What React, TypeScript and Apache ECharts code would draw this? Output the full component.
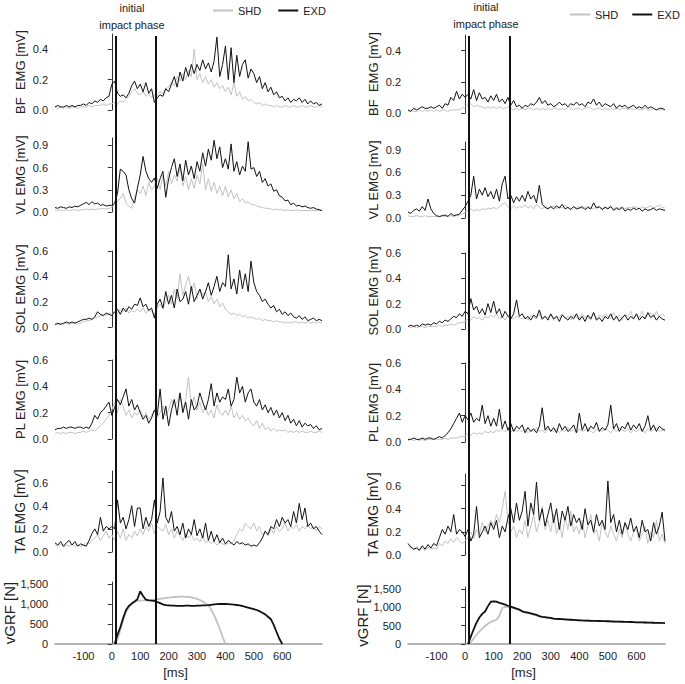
import React, { useEffect, useRef } from 'react';
import * as echarts from 'echarts';

// ---- time bases ----
const EMG_START_MS = -200;
const EMG_STEP_MS = 10;
const GRF_START_MS = 10;
const GRF_STEP_MS = 10;

const xTickLabels = [-100, 0, 100, 200, 300, 400, 500, 600];
const phaseLinesLeft = [15, 155];
const phaseLinesRight = [12, 155];

const panelNames = ['BF  EMG [mV]', 'VL EMG [mV]', 'SOL EMG [mV]', 'PL EMG [mV]', 'TA EMG [mV]', 'vGRF [N]'];
const panelMax = [0.5, 1.0, 0.6, 0.6, 0.7, 1550];
const panelTicks = [
  [0, 0.2, 0.4],
  [0, 0.3, 0.6, 0.9],
  [0, 0.2, 0.4, 0.6],
  [0, 0.2, 0.4, 0.6],
  [0, 0.2, 0.4, 0.6],
  [0, 500, 1000, 1500],
];

// ---- LEFT column (t = -200 .. 740 ms, 10 ms) ----
const bfShdL = [
  0.02,0.01,0.02,0.01,0.02,0.01,0.02,0.02,0.01,0.02,
  0.02,0.02,0.03,0.02,0.03,0.03,0.03,0.04,0.03,0.04,
  0.04,0.05,0.04,0.06,0.05,0.07,0.09,0.12,0.14,0.11,
  0.10,0.12,0.09,0.11,0.08,0.10,0.09,0.12,0.11,0.14,
  0.15,0.18,0.16,0.22,0.19,0.24,0.20,0.26,0.22,0.40,
  0.20,0.24,0.18,0.22,0.17,0.20,0.15,0.18,0.14,0.16,
  0.12,0.15,0.10,0.18,0.09,0.12,0.07,0.09,0.06,0.07,
  0.05,0.04,0.05,0.03,0.04,0.03,0.03,0.02,0.03,0.02,
  0.02,0.03,0.02,0.02,0.03,0.02,0.02,0.03,0.02,0.02,
  0.03,0.02,0.02,0.03,0.02,
];
const bfExdL = [
  0.02,0.03,0.02,0.02,0.03,0.02,0.03,0.02,0.03,0.03,
  0.04,0.03,0.05,0.04,0.06,0.05,0.07,0.06,0.08,0.09,
  0.17,0.19,0.11,0.09,0.10,0.08,0.11,0.16,0.19,0.14,
  0.17,0.12,0.18,0.11,0.14,0.05,0.08,0.10,0.09,0.14,
  0.12,0.17,0.22,0.15,0.25,0.19,0.28,0.22,0.30,0.24,
  0.30,0.26,0.33,0.27,0.31,0.25,0.32,0.48,0.22,0.30,
  0.42,0.20,0.41,0.18,0.36,0.22,0.30,0.33,0.21,0.27,
  0.24,0.18,0.22,0.14,0.18,0.12,0.15,0.10,0.12,0.08,
  0.09,0.06,0.08,0.05,0.07,0.06,0.08,0.05,0.07,0.04,
  0.06,0.04,0.05,0.03,0.04,
];
const vlShdL = [
  0.03,0.02,0.03,0.02,0.03,0.02,0.03,0.03,0.02,0.03,
  0.03,0.04,0.03,0.04,0.03,0.04,0.04,0.05,0.04,0.05,
  0.06,0.10,0.15,0.18,0.25,0.12,0.08,0.05,0.20,0.30,
  0.25,0.35,0.22,0.40,0.30,0.35,0.45,0.30,0.50,0.35,
  0.55,0.38,0.50,0.42,0.60,0.35,0.48,0.30,0.45,0.32,
  0.50,0.38,0.65,0.30,0.45,0.28,0.40,0.25,0.35,0.22,
  0.35,0.20,0.30,0.18,0.25,0.14,0.18,0.12,0.14,0.10,
  0.10,0.08,0.07,0.06,0.05,0.05,0.04,0.03,0.04,0.03,
  0.03,0.02,0.03,0.02,0.02,0.03,0.02,0.02,0.02,0.02,
  0.02,0.02,0.02,0.02,0.02,
];
const vlExdL = [
  0.06,0.05,0.07,0.06,0.05,0.07,0.06,0.08,0.07,0.09,
  0.11,0.13,0.10,0.14,0.11,0.12,0.09,0.10,0.08,0.09,
  0.09,0.12,0.25,0.58,0.55,0.50,0.30,0.18,0.12,0.32,
  0.50,0.75,0.55,0.45,0.40,0.46,0.32,0.45,0.55,0.20,
  0.45,0.60,0.72,0.48,0.65,0.42,0.70,0.50,0.62,0.45,
  0.68,0.55,0.80,0.62,0.85,0.70,0.97,0.72,0.88,0.60,
  0.72,0.58,0.92,0.55,0.68,0.50,0.62,0.55,0.95,0.58,
  0.60,0.48,0.55,0.40,0.45,0.35,0.38,0.28,0.30,0.22,
  0.20,0.15,0.16,0.10,0.12,0.08,0.09,0.07,0.08,0.06,
  0.05,0.06,0.04,0.03,0.02,
];
const solShdL = [
  0.02,0.02,0.03,0.02,0.03,0.02,0.03,0.03,0.02,0.03,
  0.04,0.05,0.05,0.06,0.07,0.08,0.09,0.10,0.09,0.11,
  0.10,0.12,0.11,0.14,0.12,0.15,0.11,0.13,0.12,0.14,
  0.12,0.15,0.11,0.14,0.12,0.10,0.15,0.18,0.14,0.20,
  0.25,0.18,0.30,0.22,0.42,0.25,0.33,0.40,0.28,0.35,
  0.22,0.30,0.25,0.28,0.20,0.24,0.18,0.22,0.16,0.19,
  0.14,0.12,0.10,0.11,0.09,0.10,0.08,0.09,0.07,0.08,
  0.07,0.06,0.07,0.05,0.06,0.05,0.05,0.04,0.05,0.04,
  0.04,0.03,0.04,0.03,0.04,0.04,0.03,0.04,0.03,0.04,
  0.03,0.04,0.03,0.04,0.03,
];
const solExdL = [
  0.02,0.03,0.02,0.03,0.04,0.03,0.04,0.03,0.04,0.05,
  0.06,0.06,0.07,0.06,0.08,0.12,0.10,0.09,0.11,0.10,
  0.09,0.12,0.14,0.10,0.15,0.12,0.16,0.14,0.18,0.17,
  0.23,0.16,0.18,0.13,0.15,0.07,0.18,0.22,0.15,0.28,
  0.18,0.25,0.15,0.30,0.20,0.22,0.28,0.18,0.32,0.20,
  0.25,0.30,0.22,0.28,0.35,0.25,0.32,0.40,0.28,0.35,
  0.32,0.57,0.30,0.38,0.26,0.45,0.30,0.42,0.28,0.52,
  0.35,0.28,0.25,0.20,0.22,0.18,0.15,0.17,0.12,0.14,
  0.10,0.12,0.09,0.11,0.08,0.07,0.09,0.06,0.08,0.05,
  0.06,0.07,0.05,0.06,0.05,
];
const plShdL = [
  0.04,0.05,0.04,0.05,0.04,0.05,0.05,0.04,0.05,0.05,
  0.06,0.05,0.06,0.07,0.06,0.08,0.10,0.12,0.15,0.18,
  0.22,0.28,0.20,0.30,0.25,0.18,0.22,0.16,0.20,0.18,
  0.22,0.17,0.20,0.15,0.18,0.22,0.16,0.20,0.25,0.18,
  0.22,0.30,0.25,0.28,0.35,0.22,0.30,0.47,0.25,0.32,
  0.22,0.28,0.20,0.25,0.18,0.22,0.16,0.26,0.20,0.18,
  0.22,0.18,0.25,0.16,0.20,0.15,0.18,0.14,0.16,0.12,
  0.10,0.14,0.08,0.12,0.07,0.09,0.06,0.08,0.06,0.07,
  0.06,0.07,0.05,0.06,0.05,0.06,0.05,0.06,0.05,0.05,
  0.06,0.05,0.05,0.06,0.05,
];
const plExdL = [
  0.07,0.08,0.08,0.09,0.08,0.09,0.09,0.08,0.09,0.09,
  0.08,0.09,0.08,0.12,0.18,0.15,0.20,0.22,0.25,0.28,
  0.18,0.24,0.30,0.26,0.32,0.38,0.25,0.30,0.22,0.26,
  0.20,0.15,0.18,0.12,0.16,0.22,0.18,0.38,0.15,0.25,
  0.10,0.22,0.30,0.18,0.35,0.20,0.28,0.15,0.30,0.22,
  0.25,0.35,0.28,0.22,0.30,0.42,0.25,0.35,0.28,0.32,
  0.30,0.38,0.25,0.30,0.47,0.35,0.40,0.28,0.35,0.38,
  0.28,0.25,0.30,0.22,0.26,0.20,0.24,0.18,0.22,0.16,
  0.20,0.14,0.18,0.12,0.15,0.10,0.14,0.09,0.12,0.10,
  0.11,0.08,0.10,0.07,0.08,
];
const taShdL = [
  0.06,0.05,0.07,0.04,0.06,0.05,0.07,0.05,0.06,0.05,
  0.06,0.08,0.07,0.10,0.12,0.15,0.10,0.14,0.18,0.12,
  0.15,0.10,0.18,0.12,0.20,0.10,0.15,0.12,0.18,0.14,
  0.20,0.15,0.22,0.18,0.25,0.16,0.22,0.20,0.18,0.24,
  0.15,0.20,0.12,0.18,0.14,0.10,0.16,0.12,0.15,0.10,
  0.12,0.09,0.14,0.08,0.10,0.07,0.09,0.06,0.08,0.07,
  0.06,0.08,0.07,0.10,0.15,0.20,0.18,0.25,0.22,0.20,
  0.25,0.18,0.22,0.15,0.18,0.14,0.20,0.16,0.22,0.18,
  0.20,0.25,0.18,0.22,0.20,0.24,0.18,0.22,0.20,0.24,
  0.20,0.22,0.18,0.22,0.20,
];
const taExdL = [
  0.08,0.06,0.09,0.05,0.08,0.10,0.06,0.09,0.05,0.07,
  0.06,0.05,0.10,0.16,0.20,0.15,0.30,0.18,0.22,0.20,
  0.22,0.20,0.45,0.25,0.30,0.20,0.28,0.40,0.22,0.38,
  0.38,0.20,0.30,0.22,0.28,0.45,0.25,0.35,0.64,0.30,
  0.25,0.35,0.18,0.22,0.15,0.25,0.12,0.20,0.15,0.28,
  0.14,0.20,0.12,0.25,0.10,0.18,0.09,0.15,0.08,0.12,
  0.07,0.10,0.08,0.06,0.09,0.07,0.08,0.06,0.07,0.05,
  0.06,0.05,0.08,0.12,0.18,0.15,0.22,0.20,0.28,0.22,
  0.30,0.25,0.28,0.22,0.35,0.25,0.42,0.28,0.38,0.22,
  0.25,0.20,0.22,0.18,0.15,
];
// vGRF left (t = 10 ms onward)
const grfShdL = [
  0,120,350,600,800,920,1000,1060,1080,1085,
  1090,1090,1095,1100,1110,1120,1130,1140,1150,1160,
  1165,1175,1180,1185,1185,1180,1175,1165,1150,1130,
  1100,1060,1020,960,860,720,560,380,180,0,
];
const grfExdL = [
  0,230,420,650,850,950,1010,1060,1120,1320,
  1200,1110,1090,1085,1080,1050,1020,990,970,965,
  960,960,955,955,955,960,960,955,955,960,
  960,965,965,970,980,990,995,1000,1005,1000,
  995,990,985,975,965,950,930,910,890,870,
  850,820,780,740,680,620,480,300,130,0,
];

// ---- RIGHT column (t = -200 .. 700 ms, 10 ms) ----
const bfShdR = [
  0.01,0.02,0.01,0.01,0.02,0.01,0.02,0.01,0.02,0.01,
  0.02,0.01,0.02,0.02,0.01,0.02,0.02,0.02,0.02,0.03,
  0.04,0.05,0.06,0.04,0.05,0.04,0.04,0.03,0.04,0.03,
  0.04,0.03,0.04,0.03,0.03,0.04,0.03,0.02,0.03,0.02,
  0.03,0.02,0.03,0.03,0.02,0.03,0.02,0.03,0.02,0.03,
  0.02,0.03,0.03,0.02,0.03,0.02,0.04,0.03,0.02,0.03,
  0.03,0.02,0.03,0.04,0.03,0.02,0.03,0.03,0.02,0.03,
  0.02,0.03,0.02,0.03,0.02,0.03,0.03,0.02,0.03,0.02,
  0.03,0.02,0.02,0.03,0.02,0.02,0.03,0.02,0.02,0.02,
  0.02,
];
const bfExdR = [
  0.02,0.01,0.03,0.02,0.03,0.04,0.03,0.03,0.04,0.03,
  0.04,0.05,0.03,0.06,0.05,0.10,0.08,0.14,0.09,0.12,
  0.10,0.12,0.09,0.15,0.08,0.13,0.09,0.10,0.07,0.11,
  0.08,0.12,0.07,0.09,0.06,0.10,0.05,0.08,0.04,0.05,
  0.03,0.05,0.04,0.06,0.05,0.07,0.10,0.06,0.08,0.05,
  0.06,0.04,0.05,0.07,0.05,0.06,0.04,0.06,0.05,0.07,
  0.05,0.06,0.04,0.07,0.06,0.09,0.05,0.07,0.04,0.06,
  0.05,0.04,0.06,0.03,0.05,0.04,0.05,0.03,0.04,0.05,
  0.03,0.04,0.03,0.05,0.03,0.04,0.03,0.02,0.03,0.03,
  0.02,
];
const vlShdR = [
  0.03,0.02,0.02,0.03,0.02,0.02,0.03,0.02,0.02,0.02,
  0.02,0.02,0.03,0.02,0.02,0.03,0.02,0.03,0.03,0.05,
  0.08,0.10,0.12,0.09,0.11,0.10,0.12,0.11,0.13,0.12,
  0.14,0.12,0.15,0.18,0.20,0.15,0.12,0.16,0.13,0.15,
  0.14,0.17,0.13,0.16,0.12,0.18,0.14,0.12,0.15,0.13,
  0.14,0.16,0.12,0.15,0.13,0.17,0.14,0.12,0.15,0.13,
  0.15,0.12,0.14,0.16,0.13,0.12,0.15,0.14,0.12,0.15,
  0.13,0.16,0.12,0.14,0.13,0.15,0.12,0.14,0.13,0.15,
  0.14,0.12,0.15,0.13,0.14,0.16,0.13,0.15,0.17,0.14,
  0.13,
];
const vlExdR = [
  0.08,0.06,0.10,0.12,0.09,0.15,0.10,0.25,0.12,0.06,
  0.03,0.02,0.03,0.04,0.02,0.06,0.03,0.04,0.05,0.10,
  0.15,0.22,0.30,0.55,0.25,0.38,0.30,0.40,0.28,0.35,
  0.25,0.38,0.22,0.45,0.55,0.25,0.30,0.20,0.28,0.22,
  0.30,0.22,0.35,0.25,0.30,0.20,0.43,0.18,0.14,0.12,
  0.15,0.12,0.16,0.13,0.18,0.12,0.14,0.11,0.15,0.12,
  0.13,0.15,0.11,0.14,0.12,0.20,0.13,0.15,0.11,0.14,
  0.12,0.15,0.10,0.13,0.11,0.14,0.09,0.12,0.10,0.13,
  0.11,0.13,0.09,0.12,0.10,0.11,0.13,0.10,0.12,0.11,
  0.10,
];
const solShdR = [
  0.02,0.01,0.02,0.01,0.02,0.02,0.01,0.02,0.02,0.02,
  0.02,0.03,0.02,0.03,0.03,0.04,0.03,0.04,0.05,0.05,
  0.06,0.08,0.07,0.10,0.08,0.09,0.07,0.10,0.09,0.11,
  0.09,0.12,0.08,0.10,0.07,0.11,0.09,0.08,0.10,0.09,
  0.08,0.10,0.07,0.11,0.09,0.08,0.12,0.07,0.10,0.09,
  0.11,0.07,0.10,0.09,0.12,0.08,0.10,0.07,0.11,0.09,
  0.08,0.12,0.09,0.10,0.07,0.13,0.08,0.11,0.09,0.12,
  0.10,0.08,0.13,0.09,0.11,0.07,0.12,0.10,0.14,0.08,
  0.12,0.09,0.14,0.08,0.11,0.13,0.09,0.14,0.10,0.12,
  0.10,
];
const solExdR = [
  0.02,0.03,0.02,0.03,0.02,0.04,0.03,0.04,0.03,0.05,
  0.04,0.06,0.05,0.07,0.06,0.08,0.10,0.09,0.12,0.10,
  0.14,0.12,0.24,0.15,0.18,0.12,0.16,0.11,0.20,0.13,
  0.22,0.12,0.16,0.09,0.14,0.10,0.08,0.12,0.23,0.10,
  0.12,0.08,0.10,0.07,0.11,0.09,0.15,0.08,0.10,0.07,
  0.12,0.08,0.10,0.06,0.11,0.09,0.07,0.10,0.08,0.12,
  0.07,0.10,0.06,0.11,0.08,0.13,0.07,0.09,0.06,0.10,
  0.08,0.12,0.07,0.10,0.06,0.09,0.11,0.07,0.10,0.08,
  0.12,0.07,0.10,0.08,0.13,0.09,0.11,0.07,0.10,0.08,
  0.07,
];
const plShdR = [
  0.01,0.02,0.01,0.02,0.01,0.02,0.01,0.02,0.02,0.02,
  0.02,0.02,0.02,0.03,0.02,0.03,0.03,0.03,0.04,0.04,
  0.05,0.06,0.05,0.07,0.06,0.07,0.06,0.08,0.07,0.08,
  0.07,0.09,0.08,0.10,0.08,0.09,0.07,0.10,0.08,0.09,
  0.08,0.10,0.07,0.09,0.08,0.11,0.08,0.09,0.07,0.10,
  0.09,0.08,0.10,0.07,0.09,0.08,0.11,0.08,0.09,0.07,
  0.10,0.08,0.09,0.11,0.08,0.07,0.10,0.09,0.08,0.10,
  0.09,0.07,0.10,0.08,0.11,0.09,0.08,0.10,0.07,0.09,
  0.08,0.10,0.09,0.07,0.10,0.08,0.09,0.11,0.08,0.09,
  0.08,
];
const plExdR = [
  0.02,0.02,0.03,0.02,0.02,0.03,0.02,0.03,0.03,0.02,
  0.03,0.04,0.03,0.05,0.07,0.10,0.14,0.18,0.22,0.15,
  0.20,0.17,0.22,0.15,0.18,0.16,0.28,0.14,0.20,0.12,
  0.18,0.12,0.25,0.10,0.16,0.09,0.14,0.08,0.12,0.10,
  0.13,0.07,0.11,0.08,0.10,0.07,0.12,0.26,0.09,0.12,
  0.08,0.11,0.07,0.14,0.09,0.12,0.08,0.10,0.13,0.07,
  0.22,0.09,0.14,0.08,0.12,0.10,0.15,0.08,0.11,0.09,
  0.13,0.28,0.10,0.14,0.08,0.12,0.10,0.15,0.09,0.13,
  0.10,0.14,0.08,0.12,0.20,0.09,0.13,0.08,0.12,0.10,
  0.09,
];
const taShdR = [
  0.08,0.06,0.05,0.07,0.05,0.06,0.04,0.07,0.05,0.06,
  0.05,0.10,0.08,0.12,0.10,0.14,0.11,0.15,0.12,0.10,
  0.12,0.15,0.20,0.14,0.22,0.18,0.28,0.20,0.25,0.30,
  0.25,0.35,0.28,0.40,0.55,0.30,0.20,0.25,0.15,0.22,
  0.18,0.30,0.15,0.25,0.35,0.20,0.28,0.42,0.22,0.30,
  0.20,0.35,0.18,0.28,0.15,0.32,0.22,0.38,0.20,0.25,
  0.18,0.30,0.15,0.25,0.35,0.18,0.22,0.12,0.28,0.20,
  0.15,0.25,0.18,0.12,0.22,0.15,0.28,0.18,0.12,0.20,
  0.22,0.12,0.18,0.25,0.10,0.20,0.15,0.30,0.12,0.18,
  0.10,
];
const taExdR = [
  0.10,0.07,0.05,0.06,0.04,0.08,0.05,0.09,0.06,0.10,
  0.08,0.15,0.22,0.18,0.25,0.20,0.35,0.18,0.22,0.20,
  0.16,0.22,0.12,0.18,0.42,0.15,0.20,0.25,0.18,0.28,
  0.22,0.30,0.15,0.25,0.20,0.32,0.40,0.28,0.45,0.30,
  0.38,0.55,0.25,0.45,0.35,0.63,0.30,0.40,0.25,0.35,
  0.45,0.28,0.40,0.22,0.38,0.30,0.42,0.25,0.35,0.28,
  0.32,0.22,0.40,0.26,0.30,0.20,0.35,0.25,0.30,0.22,
  0.64,0.28,0.35,0.20,0.30,0.18,0.28,0.22,0.32,0.20,
  0.25,0.15,0.30,0.20,0.22,0.12,0.28,0.18,0.25,0.37,
  0.12,
];
const grfShdR = [
  0,50,150,250,340,420,490,550,600,630,
  660,760,980,1010,1000,990,970,950,925,880,
  860,840,820,800,780,750,730,720,710,700,
  685,680,675,670,665,660,655,650,645,640,
  638,635,632,630,628,625,622,620,618,616,
  614,611,609,607,604,601,599,597,594,590,
  588,586,585,583,580,578,577,575,572,570,
];
const grfExdR = [
  0,200,400,580,720,820,885,1030,1150,1160,
  1150,1120,1100,1070,1040,1015,990,960,935,890,
  870,850,830,810,790,760,740,730,720,710,
  690,685,680,675,670,665,660,655,650,645,
  640,638,635,632,630,628,625,622,620,618,
  615,612,610,608,605,602,600,598,595,590,
  588,586,585,583,580,578,577,575,572,570,
];

// ---- layout (positions / styles) ----
const FONT = "'Liberation Sans', Arial, Helvetica, sans-serif";
const SHD_COLOR = '#c2c2c2';
const EXD_COLOR = '#111111';

const columns = [
  {
    left: 55, width: 267, xMax: 740,
    tops: [34, 138, 251, 360, 471, 582],
    heights: [76, 74, 76, 79, 81, 62],
    phase: phaseLinesLeft,
    shd: [bfShdL, vlShdL, solShdL, plShdL, taShdL, grfShdL],
    exd: [bfExdL, vlExdL, solExdL, plExdL, taExdL, grfExdL],
  },
  {
    left: 408, width: 257, xMax: 700,
    tops: [35, 142, 253, 363, 474, 587],
    heights: [78, 76, 76, 79, 81, 57],
    phase: phaseLinesRight,
    shd: [bfShdR, vlShdR, solShdR, plShdR, taShdR, grfShdR],
    exd: [bfExdR, vlExdR, solExdR, plExdR, taExdR, grfExdR],
  },
];

function toPairs(vals: number[], start: number, step: number) {
  return vals.map((v, i) => [start + i * step, v]);
}

function buildOption() {
  const grid: any[] = [];
  const xAxis: any[] = [];
  const yAxis: any[] = [];
  const series: any[] = [];

  columns.forEach((col) => {
    for (let i = 0; i < 6; i++) {
      const gi = grid.length;
      const isGrf = i === 5;
      grid.push({ left: col.left, width: col.width, top: col.tops[i], height: col.heights[i] });
      xAxis.push({
        type: 'value', gridIndex: gi, min: -200, max: col.xMax,
        show: isGrf,
        axisLine: { show: true, lineStyle: { color: '#999', width: 1.5 } },
        axisTick: { show: false },
        splitLine: { show: false },
        axisLabel: {
          customValues: xTickLabels, fontSize: 11, color: '#222', fontFamily: FONT, margin: 6,
        },
        name: isGrf ? '[ms]' : '',
        nameLocation: 'middle',
        nameGap: 22,
        nameTextStyle: { fontSize: 13, color: '#222', fontFamily: FONT, padding: [0, 26, 0, 0] },
      });
      yAxis.push({
        type: 'value', gridIndex: gi, min: 0, max: panelMax[i],
        axisLine: { show: true, lineStyle: { color: '#333', width: 1 } },
        axisTick: { show: true, length: 4, customValues: panelTicks[i], lineStyle: { color: '#333' } },
        splitLine: { show: false },
        axisLabel: {
          customValues: panelTicks[i], fontSize: 11, color: '#222', fontFamily: FONT, margin: 7,
          formatter: (v: number) => (isGrf ? Math.round(v).toLocaleString('en-US') : v.toFixed(1)),
        },
        name: panelNames[i],
        nameLocation: 'middle',
        nameGap: isGrf ? 30 : 28,
        nameTextStyle: { fontSize: isGrf ? 15 : (i === 4 ? 14 : 13), color: '#222', fontFamily: FONT },
      });
      const start = isGrf ? GRF_START_MS : EMG_START_MS;
      const step = isGrf ? GRF_STEP_MS : EMG_STEP_MS;
      const lw = isGrf ? 1.8 : 1;
      series.push({
        type: 'line', name: 'SHD', xAxisIndex: gi, yAxisIndex: gi,
        data: toPairs(col.shd[i], start, step),
        showSymbol: false, symbol: 'none', silent: true, color: SHD_COLOR,
        lineStyle: { color: SHD_COLOR, width: lw }, z: 2,
      });
      series.push({
        type: 'line', name: 'EXD', xAxisIndex: gi, yAxisIndex: gi,
        data: toPairs(col.exd[i], start, step),
        showSymbol: false, symbol: 'none', silent: true, color: EXD_COLOR,
        lineStyle: { color: EXD_COLOR, width: lw }, z: 3,
      });
    }
  });

  // overlay grids for the phase lines spanning each column
  columns.forEach((col) => {
    const gi = grid.length;
    grid.push({ left: col.left, width: col.width, top: 36, bottom: 684 - 644 });
    xAxis.push({ type: 'value', gridIndex: gi, min: -200, max: col.xMax, show: false });
    yAxis.push({ type: 'value', gridIndex: gi, min: 0, max: 1, show: false });
    series.push({
      type: 'line', name: 'phase', xAxisIndex: gi, yAxisIndex: gi, data: [], silent: true, z: 5,
      markLine: {
        silent: true, symbol: ['none', 'none'], label: { show: false },
        lineStyle: { color: '#111', width: 2, type: 'solid' },
        emphasis: { disabled: true },
        data: col.phase.map((x) => ({ xAxis: x })),
      },
    });
  });

  const legendCommon = {
    data: ['SHD', 'EXD'], icon: 'rect', itemWidth: 20, itemHeight: 2,
    textStyle: { fontSize: 11, color: '#222', fontFamily: FONT },
    selectedMode: false, padding: 0, orient: 'horizontal',
  };

  return {
    animation: false,
    backgroundColor: '#ffffff',
    textStyle: { fontFamily: FONT },
    grid, xAxis, yAxis, series,
    legend: [
      { ...legendCommon, left: 213, top: 5, itemGap: 17, width: 200 },
      { ...legendCommon, left: 570, top: 9, itemGap: 14, width: 114 },
    ],
    graphic: [
      { type: 'text', x: 132, y: 8, style: { text: 'initial', align: 'center', verticalAlign: 'middle', fontSize: 11, fill: '#222', fontFamily: FONT } },
      { type: 'text', x: 132, y: 25, style: { text: 'impact phase', align: 'center', verticalAlign: 'middle', fontSize: 11, fill: '#222', fontFamily: FONT } },
      { type: 'text', x: 486, y: 7, style: { text: 'initial', align: 'center', verticalAlign: 'middle', fontSize: 11, fill: '#222', fontFamily: FONT } },
      { type: 'text', x: 486, y: 24, style: { text: 'impact phase', align: 'center', verticalAlign: 'middle', fontSize: 11, fill: '#222', fontFamily: FONT } },
    ],
  };
}

export default function App() {
  const ref = useRef<HTMLDivElement>(null);
  useEffect(() => {
    if (!ref.current) return;
    const chart = echarts.init(ref.current, undefined, { renderer: 'svg' });
    chart.setOption(buildOption() as any);
    return () => chart.dispose();
  }, []);
  return <div ref={ref} style={{ position: 'absolute', left: 0, top: 0, width: 685, height: 684 }} />;
}
